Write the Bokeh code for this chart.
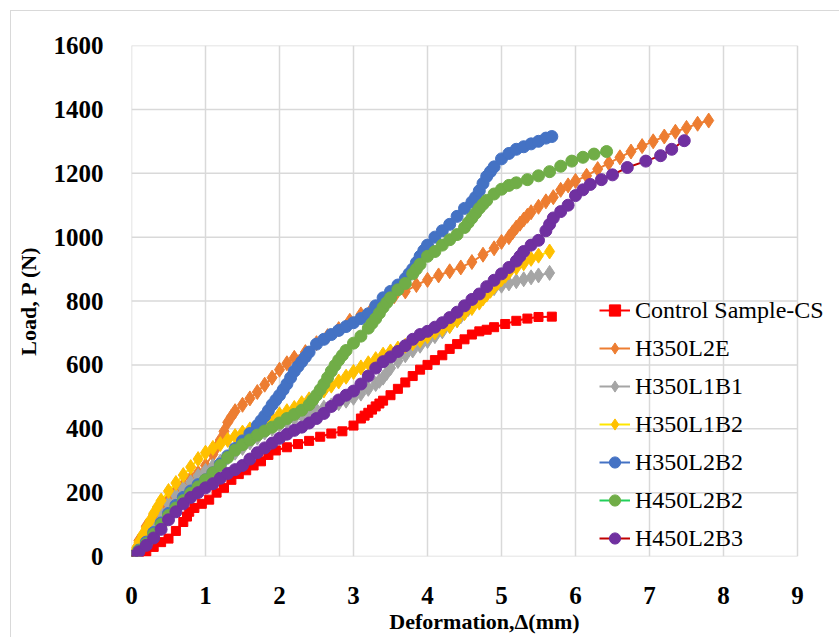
from bokeh.plotting import figure
from bokeh.models import Legend, LegendItem, FixedTicker
from bokeh.embed import file_html
from bokeh.resources import INLINE

# ---------------- data ----------------
series_names = ["Control Sample-CS", "H350L2E", "H350L1B1", "H350L1B2",
                "H350L2B2", "H450L2B2", "H450L2B3"]

cs_x = [0, 0.1, 0.2, 0.3, 0.4, 0.5, 0.6, 0.7, 0.75, 0.78, 0.85, 0.95, 1.05, 1.15, 1.25, 1.35,
        1.45, 1.55, 1.65, 1.75, 1.85, 1.95, 2.1, 2.25, 2.4, 2.55, 2.7, 2.85, 3.0, 3.1, 3.15,
        3.2, 3.25, 3.3, 3.35, 3.4, 3.5, 3.6, 3.7, 3.8, 3.9, 4.0, 4.1, 4.2, 4.3, 4.4, 4.5, 4.6,
        4.7, 4.8, 4.9, 5.05, 5.2, 5.35, 5.5, 5.68]
cs_y = [0, 8, 16, 30, 45, 56, 80, 108, 125, 140, 152, 165, 178, 200, 215, 240, 258, 270, 285,
        298, 318, 332, 342, 352, 362, 375, 385, 392, 410, 432, 441, 450, 460, 470, 479, 488,
        505, 525, 545, 565, 585, 600, 615, 630, 650, 665, 680, 695, 705, 710, 718, 728, 738,
        745, 750, 751]

e_x = [0, 0.1, 0.2, 0.3, 0.4, 0.5, 0.6, 0.7, 0.8, 0.9, 1.0, 1.1, 1.15, 1.2, 1.25, 1.3, 1.35,
       1.4, 1.5, 1.6, 1.7, 1.8, 1.9, 2.0, 2.1, 2.2, 2.35, 2.5, 2.65, 2.8, 2.95, 3.1, 3.25, 3.4,
       3.55, 3.7, 3.85, 4.0, 4.15, 4.3, 4.45, 4.6, 4.75, 4.9, 5.0, 5.1, 5.15, 5.2, 5.25, 5.3,
       5.35, 5.4, 5.5, 5.6, 5.7, 5.8, 5.9, 6.0, 6.15, 6.3, 6.45, 6.6, 6.75, 6.9, 7.05, 7.2,
       7.35, 7.5, 7.65, 7.8]
e_y = [0, 50, 95, 130, 160, 185, 205, 225, 245, 262, 285, 320, 342, 365, 392, 420, 438, 455,
       475, 495, 515, 538, 560, 585, 605, 622, 640, 668, 690, 712, 738, 758, 775, 798, 815,
       830, 850, 866, 880, 893, 905, 922, 945, 965, 985, 1000, 1015, 1030, 1042, 1055, 1067,
       1078, 1095, 1112, 1125, 1148, 1162, 1176, 1192, 1213, 1232, 1250, 1268, 1285, 1300,
       1315, 1330, 1342, 1355, 1365]

b1_x = [0, 0.1, 0.2, 0.3, 0.4, 0.5, 0.6, 0.7, 0.8, 0.9, 1.0, 1.1, 1.2, 1.3, 1.4, 1.5, 1.6, 1.7,
        1.8, 1.9, 2.0, 2.1, 2.2, 2.3, 2.4, 2.5, 2.6, 2.7, 2.8, 2.9, 3.0, 3.1, 3.2, 3.3, 3.35,
        3.4, 3.45, 3.5, 3.6, 3.7, 3.8, 3.9, 4.0, 4.1, 4.2, 4.3, 4.4, 4.45, 4.5, 4.55, 4.6, 4.7,
        4.8, 4.9, 5.0, 5.1, 5.2, 5.3, 5.4, 5.5, 5.65]
b1_y = [0, 30, 65, 100, 135, 165, 190, 212, 232, 252, 268, 283, 297, 310, 325, 340, 357, 372,
        388, 400, 412, 422, 432, 442, 450, 458, 466, 473, 480, 488, 497, 510, 525, 540, 550,
        560, 575, 590, 612, 630, 645, 660, 675, 690, 705, 722, 740, 752, 765, 775, 785, 805,
        825, 840, 848, 855, 862, 868, 874, 880, 888]

b2_x = [0, 0.05, 0.1, 0.15, 0.2, 0.25, 0.3, 0.35, 0.4, 0.5, 0.6, 0.7, 0.8, 0.9, 1.0, 1.1, 1.2,
        1.3, 1.4, 1.5, 1.6, 1.7, 1.8, 1.9, 2.0, 2.1, 2.2, 2.3, 2.4, 2.5, 2.6, 2.7, 2.8, 2.9,
        3.0, 3.1, 3.2, 3.3, 3.4, 3.5, 3.6, 3.7, 3.8, 3.9, 4.0, 4.1, 4.2, 4.3, 4.4, 4.5, 4.6,
        4.7, 4.75, 4.8, 4.85, 4.9, 4.95, 5.0, 5.05, 5.1, 5.2, 5.3, 5.4, 5.5, 5.65]
b2_y = [0, 22, 45, 68, 90, 112, 135, 155, 175, 205, 230, 255, 280, 305, 325, 340, 352, 365,
        377, 388, 398, 410, 420, 432, 445, 455, 465, 480, 492, 505, 520, 535, 548, 563, 578,
        592, 605, 618, 632, 642, 651, 660, 668, 677, 690, 702, 712, 722, 740, 762, 778, 795,
        808, 820, 832, 845, 857, 868, 879, 890, 905, 918, 932, 942, 955]

l2b2_x = [0, 0.1, 0.2, 0.3, 0.4, 0.5, 0.6, 0.7, 0.8, 0.9, 1.0, 1.1, 1.2, 1.3, 1.4, 1.5, 1.6,
          1.7, 1.75, 1.8, 1.85, 1.9, 1.95, 2.0, 2.05, 2.1, 2.15, 2.2, 2.25, 2.3, 2.35, 2.4, 2.5,
          2.6, 2.7, 2.8, 2.9, 3.0, 3.1, 3.2, 3.3, 3.4, 3.5, 3.6, 3.7, 3.75, 3.8, 3.85, 3.9,
          3.95, 4.0, 4.1, 4.2, 4.3, 4.4, 4.5, 4.6, 4.65, 4.7, 4.75, 4.8, 4.85, 4.9, 5.0, 5.1,
          5.2, 5.3, 5.4, 5.5, 5.6, 5.68]
l2b2_y = [0, 20, 45, 75, 105, 135, 160, 185, 205, 225, 240, 262, 290, 315, 338, 362, 385, 410,
          425, 440, 457, 475, 490, 505, 522, 540, 560, 580, 595, 610, 625, 640, 665, 680, 695,
          708, 720, 732, 745, 760, 785, 810, 830, 850, 870, 885, 900, 920, 940, 958, 975, 1000,
          1020, 1040, 1065, 1090, 1110, 1125, 1145, 1168, 1190, 1205, 1220, 1245, 1262, 1275,
          1283, 1292, 1300, 1310, 1315]

h450b2_x = [0, 0.1, 0.2, 0.3, 0.4, 0.5, 0.6, 0.7, 0.8, 0.9, 1.0, 1.1, 1.2, 1.3, 1.4, 1.5, 1.6,
            1.7, 1.8, 1.9, 2.0, 2.1, 2.2, 2.3, 2.4, 2.45, 2.5, 2.55, 2.6, 2.65, 2.7, 2.75, 2.8,
            2.85, 2.9, 3.0, 3.1, 3.2, 3.25, 3.3, 3.35, 3.4, 3.45, 3.5, 3.6, 3.7, 3.8, 3.85, 3.9,
            4.0, 4.1, 4.2, 4.3, 4.4, 4.5, 4.55, 4.6, 4.65, 4.7, 4.75, 4.8, 4.9, 5.0, 5.1, 5.2,
            5.35, 5.5, 5.65, 5.8, 5.95, 6.1, 6.25, 6.42]
h450b2_y = [0, 18, 40, 70, 100, 128, 152, 175, 198, 218, 240, 262, 285, 310, 333, 350, 365,
            380, 393, 405, 418, 432, 445, 458, 475, 490, 505, 522, 540, 560, 580, 598, 615, 630,
            645, 668, 690, 715, 730, 745, 762, 780, 795, 810, 835, 855, 885, 900, 915, 940, 955,
            975, 992, 1008, 1030, 1045, 1060, 1075, 1090, 1103, 1115, 1135, 1150, 1162, 1170,
            1180, 1192, 1205, 1222, 1238, 1250, 1260, 1268]

h450b3_x = [0, 0.1, 0.2, 0.3, 0.4, 0.5, 0.6, 0.7, 0.8, 0.9, 1.0, 1.1, 1.2, 1.3, 1.4, 1.5, 1.6,
            1.7, 1.8, 1.9, 2.0, 2.1, 2.2, 2.3, 2.4, 2.5, 2.6, 2.7, 2.8, 2.9, 3.0, 3.1, 3.2, 3.3,
            3.4, 3.5, 3.6, 3.7, 3.8, 3.9, 4.0, 4.1, 4.2, 4.3, 4.4, 4.5, 4.6, 4.7, 4.8, 4.9, 5.0,
            5.1, 5.2, 5.25, 5.3, 5.4, 5.5, 5.6, 5.65, 5.7, 5.8, 5.9, 6.0, 6.1, 6.2, 6.35, 6.5,
            6.7, 6.95, 7.15, 7.3, 7.47]
h450b3_y = [0, 15, 35, 58, 85, 115, 140, 165, 185, 200, 215, 228, 245, 260, 272, 285, 305, 325,
            340, 355, 370, 383, 395, 405, 418, 432, 448, 470, 490, 505, 518, 540, 565, 590, 610,
            625, 642, 660, 680, 695, 705, 718, 732, 748, 765, 785, 805, 822, 845, 865, 885, 905,
            925, 940, 955, 975, 990, 1020, 1040, 1060, 1080, 1100, 1130, 1148, 1165, 1180, 1195,
            1218, 1238, 1255, 1275, 1302]

x_ticks = [0, 1, 2, 3, 4, 5, 6, 7, 8, 9]
y_ticks = [0, 200, 400, 600, 800, 1000, 1200, 1400, 1600]

# ---------------- styles ----------------
SERIF = "'Liberation Serif', 'Times New Roman', serif"
line_colors = ["#FF0000", "#ED7D31", "#A5A5A5", "#FFE600", "#4472C4", "#22D05A", "#C00000"]
mark_colors = ["#FF0000", "#ED7D31", "#A5A5A5", "#FFC000", "#4472C4", "#70AD47", "#7030A0"]
markers = ["square", "diamond", "diamond", "diamond", "circle", "circle", "circle"]
msizes = [9, 15, 15, 15, 12, 12, 12]

data_x = [cs_x, e_x, b1_x, b2_x, l2b2_x, h450b2_x, h450b3_x]
data_y = [cs_y, e_y, b1_y, b2_y, l2b2_y, h450b2_y, h450b3_y]

x_end = x_ticks[-1] * 706 / 666.0   # frame extends past the last tick so the legend fits

p = figure(width=829, height=627, x_range=(0, x_end), y_range=(y_ticks[0], y_ticks[-1]),
           output_backend="svg", toolbar_location=None,
           min_border_left=120, min_border_right=3, min_border_top=34, min_border_bottom=82)
p.margin = (10, 0, 0, 10)
p.styles = {"border-top": "1px solid #d9d9d9", "border-left": "1px solid #d9d9d9"}
p.outline_line_color = None
p.background_fill_color = "white"
p.border_fill_color = "white"

p.xaxis.ticker = FixedTicker(ticks=x_ticks)
p.yaxis.ticker = FixedTicker(ticks=y_ticks)
for ax in (p.xaxis[0], p.yaxis[0]):
    ax.axis_line_color = None
    ax.major_tick_line_color = None
    ax.minor_tick_line_color = None
    ax.major_label_text_font = SERIF
    ax.major_label_text_font_style = "bold"
    ax.major_label_text_font_size = "25px"
    ax.major_label_text_color = "black"
    ax.axis_label_text_font = SERIF
    ax.axis_label_text_font_style = "bold"
    ax.axis_label_text_font_size = "22px"
    ax.axis_label_text_color = "black"
p.xaxis.axis_label = "Deformation,Δ(mm)"
p.yaxis.axis_label = "Load, P (N)"
p.xaxis.major_label_standoff = 24
p.yaxis.major_label_standoff = 22
p.xaxis.axis_label_standoff = 2
p.yaxis.axis_label_standoff = 10

# grid drawn only over the 0..9 x 0..1600 area
p.grid.visible = False
p.segment(x0=x_ticks, y0=[y_ticks[0]] * len(x_ticks), x1=x_ticks, y1=[y_ticks[-1]] * len(x_ticks),
          line_color="#d9d9d9", line_width=1.5)
p.segment(x0=[x_ticks[0]] * len(y_ticks), y0=y_ticks, x1=[x_ticks[-1]] * len(y_ticks), y1=y_ticks,
          line_color="#d9d9d9", line_width=1.5)

items = []
for i, name in enumerate(series_names):
    ln = p.line(data_x[i], data_y[i], line_color=line_colors[i], line_width=2)
    sc = p.scatter(data_x[i], data_y[i], marker=markers[i], size=msizes[i],
                   fill_color=mark_colors[i], line_color=mark_colors[i])
    items.append(LegendItem(label=name, renderers=[ln, sc]))

legend = Legend(items=items, location=(468, 4), orientation="vertical",
                background_fill_alpha=0, border_line_alpha=0,
                label_text_font=SERIF, label_text_font_size="24px",
                label_text_color="black", glyph_width=31, glyph_height=28,
                label_height=28, spacing=10, padding=0, margin=0, label_standoff=5)
p.add_layout(legend, "center")

open("out.html", "w").write(file_html(p, INLINE))
